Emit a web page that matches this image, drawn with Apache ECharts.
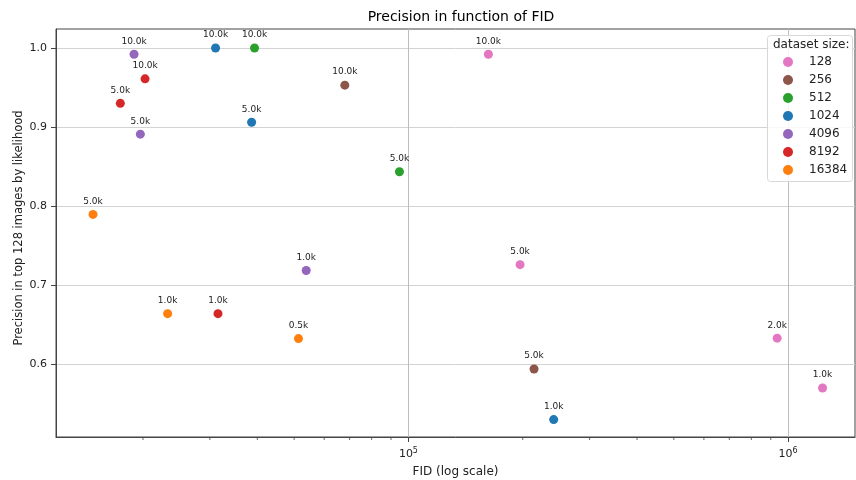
<!DOCTYPE html>
<html>
<head>
<meta charset="utf-8">
<script src="https://cdn.jsdelivr.net/npm/echarts@6/dist/echarts.min.js"></script>
<style>html,body{margin:0;padding:0;background:#fff}#c{width:856px;height:480px}</style>
</head>
<body>
<div id="c"></div>
<script>
// ---- data (FID, precision, annotation) per dataset size ----
const seriesNames = ['128', '256', '512', '1024', '4096', '8192', '16384'];
const fid128 = [162400, 196800, 935600, 1232000];
const prec128 = [0.992, 0.726, 0.633, 0.570];
const lbl128 = ['10.0k', '5.0k', '2.0k', '1.0k'];
const fid256 = [68000, 214200];
const prec256 = [0.953, 0.594];
const lbl256 = ['10.0k', '5.0k'];
const fid512 = [39330, 94700];
const prec512 = [1.0, 0.8435];
const lbl512 = ['10.0k', '5.0k'];
const fid1024 = [31050, 38640, 241300];
const prec1024 = [1.0, 0.906, 0.530];
const lbl1024 = ['10.0k', '5.0k', '1.0k'];
const fid4096 = [18940, 19680, 53800];
const prec4096 = [0.992, 0.891, 0.7186];
const lbl4096 = ['10.0k', '5.0k', '1.0k'];
const fid8192 = [20250, 17430, 31510];
const prec8192 = [0.961, 0.930, 0.664];
const lbl8192 = ['10.0k', '5.0k', '1.0k'];
const fid16384 = [14770, 23220, 51340];
const prec16384 = [0.7895, 0.664, 0.6325];
const lbl16384 = ['5.0k', '1.0k', '0.5k'];
const xMajorTicks = [100000, 1000000];
const yTicks = [0.6, 0.7, 0.8, 0.9, 1.0];
const minorTickValues = [20000, 30000, 40000, 50000, 60000, 70000, 80000, 90000,
                         200000, 300000, 400000, 500000, 600000, 700000, 800000, 900000];

const colors = ['#e377c2', '#8c564b', '#2ca02c', '#1f77b4', '#9467bd', '#d62728', '#ff7f0e'];
const groups = [
  [fid128, prec128, lbl128], [fid256, prec256, lbl256], [fid512, prec512, lbl512],
  [fid1024, prec1024, lbl1024], [fid4096, prec4096, lbl4096], [fid8192, prec8192, lbl8192],
  [fid16384, prec16384, lbl16384]
];
const X_MIN = 11800, X_MAX = 1500000, Y_MIN = 0.508, Y_MAX = 1.024;
const FONT = 'DejaVu Sans';

const scatterSeries = groups.map((g, i) => ({
  name: seriesNames[i],
  type: 'scatter',
  symbol: 'circle',
  symbolSize: 9,
  itemStyle: { color: colors[i], opacity: 1 },
  data: g[0].map((x, j) => ({ value: [x, g[1][j]], lbl: g[2][j] })),
  label: {
    show: true, position: 'top', distance: 4,
    formatter: p => p.data.lbl,
    fontFamily: FONT, fontSize: 9, color: '#222'
  },
  emphasis: { disabled: true },
  z: 3
}));

const minorSeries = {
  type: 'custom',
  silent: true,
  clip: false,
  data: minorTickValues.map(v => [v, Y_MIN]),
  renderItem: (params, api) => {
    const p = api.coord([api.value(0), api.value(1)]);
    return { type: 'line', shape: { x1: p[0], y1: p[1], x2: p[0], y2: p[1] + 3 },
             style: { stroke: '#444', lineWidth: 0.8 } };
  },
  z: 2
};

const chart = echarts.init(document.getElementById('c'), null, { renderer: 'canvas' });
chart.setOption({
  animation: false,
  textStyle: { fontFamily: FONT },
  title: {
    text: 'Precision in function of FID', left: 456, top: 5, textAlign: 'center',
    textStyle: { fontFamily: FONT, fontSize: 14, fontWeight: 'normal', color: '#000' }
  },
  grid: { left: 56, right: 1, top: 29, bottom: 43, show: true, borderColor: '#444', borderWidth: 1,
          backgroundColor: 'transparent', containLabel: false, outerBoundsMode: 'none' },
  xAxis: {
    type: 'log', logBase: 10, min: X_MIN, max: X_MAX,
    name: 'FID (log scale)', nameLocation: 'middle', nameGap: 29, nameMoveOverlap: false,
    nameTextStyle: { fontFamily: FONT, fontSize: 12, color: '#222' },
    axisLine: { show: true, lineStyle: { color: '#444' } },
    axisTick: { show: true, length: 5, customValues: xMajorTicks, lineStyle: { color: '#444' } },
    splitLine: { show: true, lineStyle: { color: '#bdbdbd', width: 1 } },
    axisLabel: {
      margin: 10, color: '#222', fontFamily: FONT, fontSize: 11,
      customValues: xMajorTicks,
      formatter: v => {
        const l = Math.log10(v);
        if (Math.abs(l - Math.round(l)) < 1e-6) return '10{sup|' + Math.round(l) + '}';
        return '';
      },
      rich: { sup: { fontSize: 8, verticalAlign: 'top', padding: [0, 0, 6, 0], fontFamily: FONT, color: '#222' } }
    }
  },
  yAxis: {
    type: 'value', min: Y_MIN, max: Y_MAX,
    name: 'Precision in top 128 images by likelihood', nameLocation: 'middle', nameGap: 31, nameMoveOverlap: false,
    nameTextStyle: { fontFamily: FONT, fontSize: 11.5, color: '#222', padding: [0, 0, 0, 10] },
    axisLine: { show: true, lineStyle: { color: '#444' } },
    axisTick: { show: true, length: 5, customValues: yTicks, lineStyle: { color: '#444' } },
    splitLine: { show: true, lineStyle: { color: '#d3d3d3', width: 1 } },
    axisLabel: {
      margin: 9, color: '#222', fontFamily: FONT, fontSize: 11,
      customValues: yTicks,
      formatter: v => {
        const k = v * 10;
        if (Math.abs(k - Math.round(k)) < 1e-6) return (Math.round(k) / 10).toFixed(1);
        return '';
      }
    }
  },
  legend: {
    data: seriesNames, orient: 'vertical', left: 783, top: 56, padding: 0,
    icon: 'circle', itemWidth: 10, itemHeight: 10, itemGap: 6,
    textStyle: { fontFamily: FONT, fontSize: 12, color: '#222', padding: [0, 0, 0, 11] },
    selectedMode: false, z: 20
  },
  graphic: [
    { type: 'rect', left: 767, top: 35, shape: { width: 85, height: 146, r: 3 },
      style: { fill: 'rgba(255,255,255,0.85)', stroke: '#d8d8d8', lineWidth: 1 }, z: 10 },
    { type: 'text', left: 773, top: 39, style: { text: 'dataset size:', fontFamily: FONT, fontSize: 12, fill: '#222' }, z: 11 }
  ],
  series: scatterSeries.concat([minorSeries])
});
</script>
</body>
</html>
